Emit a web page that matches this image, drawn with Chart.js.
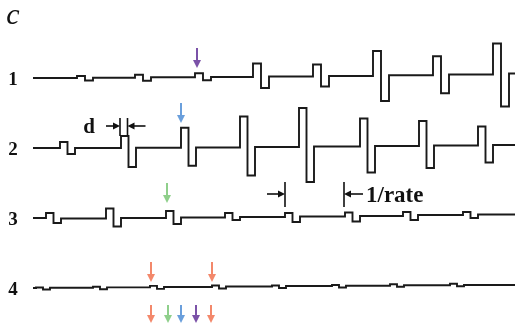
<!DOCTYPE html>
<html>
<head>
<meta charset="utf-8">
<script src="https://cdn.jsdelivr.net/npm/chart.js@4.4.0/dist/chart.umd.min.js"></script>
<style>
  html, body { margin: 0; padding: 0; background: #fff; }
  #wrap { width: 515px; height: 325px; position: relative; }
</style>
</head>
<body>
<div id="wrap"><canvas id="chart"></canvas></div>
<script>
// trace names (left labels)
const traceLabels = ['1', '2', '3', '4'];

// pulse onset times (same units as x axis)
const pulseTimes1 = [77, 135, 195, 253, 313, 373, 433, 493];
const pulseTimes2 = [60, 121, 181, 240, 299, 360, 419, 478];
const pulseTimes3 = [46, 106, 166, 225, 285, 345, 403, 463];
const pulseTimes4 = [36, 93, 150, 212, 272, 332, 390, 450];

// positive lobe amplitude of each pulse
const upAmp1 = [2, 3, 4, 13.5, 12, 25, 19, 31];
const upAmp2 = [6, 12, 20, 31, 39, 28, 25, 19];
const upAmp3 = [5, 10, 7, 4.5, 4, 4, 4, 3];
const upAmp4 = [0.5, 1, 1.5, 1.5, 1, 1, 1.5, 1.5];

// negative lobe amplitude of each pulse
const downAmp1 = [2.5, 3, 3, 11, 10, 25, 18, 32];
const downAmp2 = [6, 19, 18, 28, 35, 26, 22, 17];
const downAmp3 = [5, 8, 6, 2.5, 5, 5, 4, 3];
const downAmp4 = [1.5, 1.5, 1.5, 1.5, 1.5, 1.5, 1, 1];

// baseline level before first pulse and after each pulse (slow drift)
const baseline1 = [0, 0.3, 0.7, 1, 1.5, 2, 2.8, 3.5, 4.5];
const baseline2 = [0, 0, 0.3, 0.5, 1, 1.5, 2, 2.5, 3];
const baseline3 = [0, -0.5, 0, 0.5, 1, 1.5, 2, 3, 3.5];
const baseline4 = [0, 0.3, 0.6, 1, 1.5, 2, 2.3, 2.7, 3];

// half-width of each biphasic pulse
const halfWidths = [8, 7.5, 7.5, 7];

// recording window
const tStart = 33;
const tEnd = 515;

// marker arrows: [time, trace index, colour]
const markerTimes = [197, 181, 167, 151, 212];
const markerTraces = [0, 1, 2, 3, 3];
const markerColors = ['#7b52a8', '#6a9fdc', '#8fcf8b', '#f3886b', '#f3886b'];
// summary row of arrows under trace 4
const summaryTimes = [151, 168, 181, 196, 211];
const summaryColors = ['#f3886b', '#8fcf8b', '#6a9fdc', '#7b52a8', '#f3886b'];

// vertical offset of each trace
const traceOffsets = [0, -70, -140, -210];

function buildTrace(times, up, down, base, w, offset) {
    const pts = [{ x: tStart, y: offset + base[0] }];
    times.forEach((t, i) => {
        const b0 = offset + base[i];
        const b1 = offset + base[i + 1];
        pts.push({ x: t, y: b0 });
        pts.push({ x: t, y: b0 + up[i] });
        pts.push({ x: t + w, y: b0 + up[i] });
        pts.push({ x: t + w, y: b0 - down[i] });
        pts.push({ x: t + 2 * w, y: b0 - down[i] });
        pts.push({ x: t + 2 * w, y: b1 });
    });
    pts.push({ x: tEnd, y: offset + base[base.length - 1] });
    return pts;
}

const traces = [
    buildTrace(pulseTimes1, upAmp1, downAmp1, baseline1, halfWidths[0], traceOffsets[0]),
    buildTrace(pulseTimes2, upAmp2, downAmp2, baseline2, halfWidths[1], traceOffsets[1]),
    buildTrace(pulseTimes3, upAmp3, downAmp3, baseline3, halfWidths[2], traceOffsets[2]),
    buildTrace(pulseTimes4, upAmp4, downAmp4, baseline4, halfWidths[3], traceOffsets[3])
];

function arrowDown(ctx, x, yTop, yTip, color) {
    ctx.save();
    ctx.strokeStyle = color;
    ctx.fillStyle = color;
    ctx.lineWidth = 2;
    ctx.beginPath();
    ctx.moveTo(x, yTop);
    ctx.lineTo(x, yTip - 6);
    ctx.stroke();
    ctx.beginPath();
    ctx.moveTo(x - 4, yTip - 8);
    ctx.lineTo(x + 4, yTip - 8);
    ctx.lineTo(x, yTip);
    ctx.closePath();
    ctx.fill();
    ctx.restore();
}

function arrowH(ctx, xFrom, xTo, y) {
    const dir = xTo > xFrom ? 1 : -1;
    ctx.beginPath();
    ctx.moveTo(xFrom, y);
    ctx.lineTo(xTo - dir * 5, y);
    ctx.stroke();
    ctx.beginPath();
    ctx.moveTo(xTo, y);
    ctx.lineTo(xTo - dir * 7, y - 3.5);
    ctx.lineTo(xTo - dir * 7, y + 3.5);
    ctx.closePath();
    ctx.fill();
}

const annotations = {
    id: 'annotations',
    afterDatasetsDraw(chart) {
        const ctx = chart.ctx;
        const xs = chart.scales.x;
        const ys = chart.scales.y;
        const px = v => xs.getPixelForValue(v);
        const py = v => ys.getPixelForValue(v);

        ctx.save();
        ctx.fillStyle = '#111';
        ctx.textBaseline = 'alphabetic';
        ctx.textAlign = 'center';

        // panel letter
        ctx.font = 'italic 30px "Liberation Serif", "DejaVu Serif", serif';
        ctx.fillText('c', 13, 24);

        // trace numbers
        ctx.font = 'bold 19px "Liberation Serif", "DejaVu Serif", serif';
        traceLabels.forEach((lab, i) => {
            ctx.fillText(lab, 13, py(traceOffsets[i]) + 7);
        });

        // pulse width marker "d"
        ctx.strokeStyle = '#111';
        ctx.lineWidth = 1.6;
        const dL = pulseTimes2[1] - 1, dR = pulseTimes2[1] + halfWidths[1] - 1;
        const dY = py(traceOffsets[1]) - 22;
        ctx.beginPath();
        ctx.moveTo(px(dL), dY - 8); ctx.lineTo(px(dL), dY + 10);
        ctx.moveTo(px(dR), dY - 8); ctx.lineTo(px(dR), dY + 10);
        ctx.stroke();
        arrowH(ctx, px(dL) - 14, px(dL), dY);
        arrowH(ctx, px(dR) + 18, px(dR), dY);
        ctx.font = 'bold 21px "Liberation Serif", "DejaVu Serif", serif';
        ctx.fillText('d', 89, dY + 7);

        // interval marker "1/rate"
        const rL = pulseTimes3[4], rR = pulseTimes3[5] - 1;
        const rY = py(traceOffsets[2]) - 24;
        ctx.beginPath();
        ctx.moveTo(px(rL), rY - 12); ctx.lineTo(px(rL), rY + 13);
        ctx.moveTo(px(rR), rY - 12); ctx.lineTo(px(rR), rY + 13);
        ctx.stroke();
        arrowH(ctx, px(rL) - 18, px(rL), rY);
        arrowH(ctx, px(rR) + 19, px(rR), rY);
        ctx.textAlign = 'left';
        ctx.font = 'bold 23px "Liberation Serif", "DejaVu Serif", serif';
        ctx.fillText('1/rate', px(rR) + 22, rY + 8);
        ctx.restore();

        // coloured arrows on traces
        const tipGap = [10, 25, 15, 6];
        markerTimes.forEach((t, i) => {
            const tr = markerTraces[i];
            const tip = py(traceOffsets[tr] + tipGap[tr]);
            arrowDown(ctx, px(t), tip - 20, tip, markerColors[i]);
        });
        // summary row
        summaryTimes.forEach((t, i) => {
            const tip = py(traceOffsets[3] - 35);
            arrowDown(ctx, px(t), tip - 18, tip, summaryColors[i]);
        });
    }
};

new Chart(document.getElementById('chart'), {
    type: 'line',
    data: {
        datasets: traces.map((pts, i) => ({
            label: 'Trace ' + traceLabels[i],
            data: pts,
            borderColor: '#1a1a1a',
            borderWidth: 1.9,
            pointRadius: 0,
            tension: 0,
            fill: false
        }))
    },
    options: {
        responsive: true,
        maintainAspectRatio: false,
        animation: false,
        layout: { padding: 0 },
        plugins: {
            legend: { display: false },
            tooltip: { enabled: false }
        },
        scales: {
            x: { type: 'linear', min: 0, max: 515, display: false },
            y: { type: 'linear', min: -247, max: 78, display: false }
        }
    },
    plugins: [annotations]
});
</script>
</body>
</html>
